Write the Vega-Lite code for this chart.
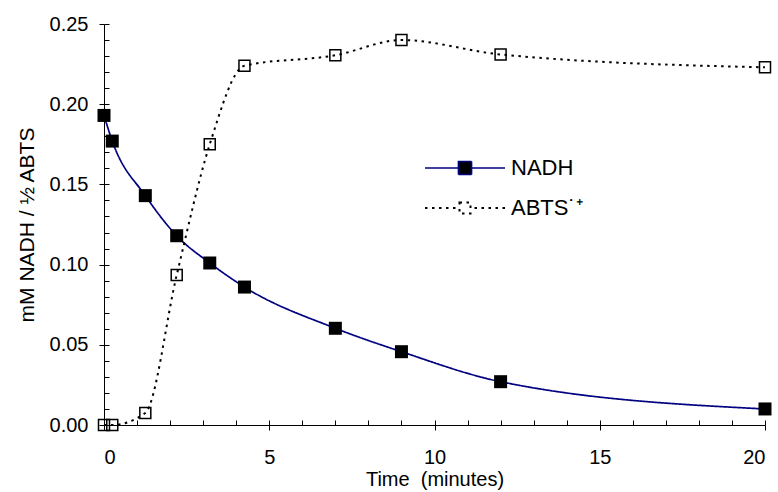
{
  "$schema": "https://vega.github.io/schema/vega-lite/v6.json",
  "autosize": {"type": "none"},
  "width": 661,
  "height": 401,
  "padding": {"left": 104, "top": 24, "right": 13, "bottom": 67},
  "background": "white",
  "config": {
    "font": "Liberation Sans",
    "view": {"stroke": null},
    "axis": {"grid": false, "domainColor": "#000000", "tickColor": "#000000", "labelColor": "#000000", "titleColor": "#000000", "labelFont": "Liberation Sans", "titleFont": "Liberation Sans", "titleFontWeight": "normal", "domainWidth": 1, "tickWidth": 1},
    "legend": {"labelFontSize": 22, "labelFont": "Liberation Sans", "labelColor": "#000000"}
  },
  "data": {"values": [
    {"series": "NADH", "t": 0, "v": 0.193},
    {"series": "NADH", "t": 0.25, "v": 0.177},
    {"series": "NADH", "t": 1.25, "v": 0.143},
    {"series": "NADH", "t": 2.2, "v": 0.118},
    {"series": "NADH", "t": 3.2, "v": 0.101},
    {"series": "NADH", "t": 4.25, "v": 0.086},
    {"series": "NADH", "t": 7, "v": 0.0603},
    {"series": "NADH", "t": 9, "v": 0.0457},
    {"series": "NADH", "t": 12, "v": 0.027},
    {"series": "NADH", "t": 20, "v": 0.010},
    {"series": "ABTS˙⁺", "t": 0, "v": 0},
    {"series": "ABTS˙⁺", "t": 0.25, "v": 0},
    {"series": "ABTS˙⁺", "t": 1.25, "v": 0.0075},
    {"series": "ABTS˙⁺", "t": 2.2, "v": 0.0935},
    {"series": "ABTS˙⁺", "t": 3.2, "v": 0.175},
    {"series": "ABTS˙⁺", "t": 4.25, "v": 0.224},
    {"series": "ABTS˙⁺", "t": 7, "v": 0.2305},
    {"series": "ABTS˙⁺", "t": 9, "v": 0.240},
    {"series": "ABTS˙⁺", "t": 12, "v": 0.231},
    {"series": "ABTS˙⁺", "t": 20, "v": 0.223}
  ]},
  "resolve": {"axis": {"x": "independent", "y": "independent"}},
  "layer": [
    {
      "mark": {"type": "line", "interpolate": "monotone"},
      "encoding": {
        "x": {"field": "t", "type": "quantitative", "scale": {"domain": [0, 20], "nice": false},
          "axis": {"orient": "bottom", "values": [0, 5, 10, 15, 20], "tickSize": 5, "labelFontSize": 20, "labelPadding": 17, "title": "Time\u00a0 (minutes)", "titleFontSize": 20, "titlePadding": 2}},
        "y": {"field": "v", "type": "quantitative", "scale": {"domain": [0, 0.25], "nice": false},
          "axis": {"orient": "left", "values": [0, 0.05, 0.1, 0.15, 0.2, 0.25], "format": ".2f", "tickSize": 5, "labelFontSize": 20, "labelPadding": 11, "title": "mM NADH / ½ ABTS", "titleFontSize": 21, "titlePadding": 12}},
        "color": {"field": "series", "type": "nominal", "scale": {"domain": ["NADH", "ABTS˙⁺"], "range": ["#000080", "#000000"]},
          "legend": {"title": null, "orient": "none", "legendX": 350, "legendY": 133, "padding": 0, "symbolOffset": 0, "labelOffset": 35, "labelFontSize": 22, "labelColor": "#000000", "labelFont": "Liberation Sans", "rowPadding": 18,
            "encode": {"symbols": {"update": {
              "shape": {"signal": "datum.value === 'NADH' ? 'M-40,0H-7M7,0H40M-6.5,-6.5H6.5V6.5H-6.5Z' : 'M-40,0H-37.5M-33,0H-30.5M-26,0H-23.5M-19,0H-16.5M-12,0H-9.5M-5.5,-5.5H5.5V5.5H-5.5ZM9.5,0H12M16.5,0H19M23.5,0H26M30.5,0H33M37.5,0H40'"},
              "size": {"value": 4},
              "fill": {"signal": "datum.value === 'NADH' ? '#000000' : 'transparent'"},
              "stroke": {"signal": "datum.value === 'NADH' ? '#000080' : '#000000'"},
              "strokeWidth": {"value": 1.6},
              "strokeDash": {"value": []},
              "opacity": {"value": 1}
            }}}}},
        "strokeDash": {"field": "series", "type": "nominal", "scale": {"domain": ["NADH", "ABTS˙⁺"], "range": [[1, 0], [2.5, 4.5]]}, "legend": null},
        "strokeWidth": {"field": "series", "type": "nominal", "scale": {"domain": ["NADH", "ABTS˙⁺"], "range": [1.7, 2]}, "legend": null}
      }
    },
    {
      "transform": [{"filter": "datum.series === 'ABTS˙⁺'"}],
      "mark": {"type": "point", "shape": "square", "filled": false, "stroke": "#000000", "strokeWidth": 1.5, "size": 121, "opacity": 1},
      "encoding": {
        "x": {"field": "t", "type": "quantitative",
          "axis": {"orient": "bottom", "values": [0,1,2,3,4,5,6,7,8,9,10,11,12,13,14,15,16,17,18,19,20], "tickSize": -5, "labels": false, "domain": false, "title": null}},
        "y": {"field": "v", "type": "quantitative",
          "axis": {"orient": "left", "values": [0,0.01,0.02,0.03,0.04,0.05,0.06,0.07,0.08,0.09,0.1,0.11,0.12,0.13,0.14,0.15,0.16,0.17,0.18,0.19,0.2,0.21,0.22,0.23,0.24,0.25], "tickSize": -5, "labels": false, "domain": false, "title": null}}
      }
    },
    {
      "transform": [{"filter": "datum.series === 'NADH'"}],
      "mark": {"type": "point", "shape": "square", "filled": true, "color": "#000000", "size": 169, "opacity": 1},
      "encoding": {
        "x": {"field": "t", "type": "quantitative", "axis": null},
        "y": {"field": "v", "type": "quantitative", "axis": null}
      }
    }
  ]
}
